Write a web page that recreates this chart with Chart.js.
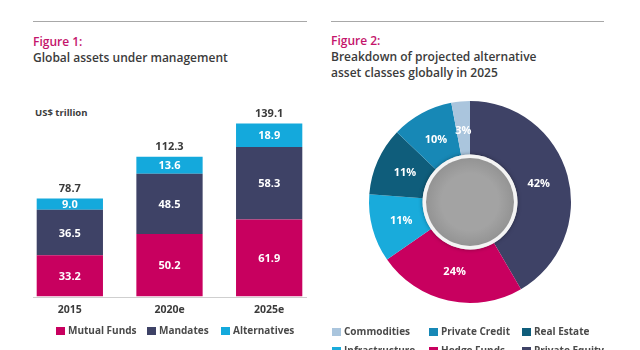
<!DOCTYPE html>
<html>
<head>
<meta charset="utf-8">
<script src="https://cdn.jsdelivr.net/npm/chart.js@4"></script>
<style>
  body { margin: 0; width: 640px; height: 350px; overflow: hidden; background: #fff; font-family: "Open Sans", sans-serif; position: relative; }
  .rule { position: absolute; top: 21px; height: 1px; background: #a8a8a8; }
  .fig { position: absolute; font-size: 12px; font-weight: 600; color: #c4146b; }
  .title { position: absolute; font-size: 12px; font-weight: 600; color: #3b3b3b; line-height: 16px; }
  .unit { position: absolute; left: 35px; top: 106px; font-size: 9.5px; font-weight: bold; color: #3b3b3b; }
  .box { position: absolute; }
  .leg { position: absolute; font-size: 10px; font-weight: bold; color: #4a4a4a; white-space: nowrap; line-height: 14px; }
  .leg span { display: inline-block; width: 9px; height: 8px; margin-right: 3px; vertical-align: -0.5px; }
</style>
</head>
<body>
<div class="rule" style="left:33px;width:274px"></div>
<div class="rule" style="left:331px;width:273px"></div>
<div class="fig" style="left:33px;top:33px">Figure 1:</div>
<div class="title" style="left:33px;top:50px">Global assets under management</div>
<div class="fig" style="left:331px;top:32px">Figure 2:</div>
<div class="title" style="left:331px;top:49px">Breakdown of projected alternative<br>asset classes globally in 2025</div>
<div class="unit">US$ trillion</div>

<div class="box" style="left:20px;top:98px;width:299px;height:225px"><canvas id="barChart"></canvas></div>
<div class="rule" style="left:33px;width:274px;top:297px;background:#cfcfcf"></div>
<div class="box" style="left:365px;top:97px;width:210px;height:210px"><canvas id="pieChart"></canvas></div>

<script>
// Figure 1 data
const years = ['2015', '2020e', '2025e'];
const mutualFunds = [33.2, 50.2, 61.9];
const mandates = [36.5, 48.5, 58.3];
const alternatives = [9.0, 13.6, 18.9];
const totals = [78.7, 112.3, 139.1];

// Figure 2 data (clockwise from the top)
const assetClasses = ['Private Equity', 'Hedge Funds', 'Infrastructure', 'Real Estate', 'Private Credit', 'Commodities'];
const assetShares = [42, 24, 11, 11, 10, 3];
const legendOrder = ['Commodities', 'Private Credit', 'Real Estate', 'Infrastructure', 'Hedge Funds', 'Private Equity'];

const PINK = '#c8005f';
const NAVY = '#3e4266';
const CYAN = '#14a9dc';
const pieColors = {
    'Private Equity': NAVY,
    'Hedge Funds': PINK,
    'Infrastructure': '#19abdb',
    'Real Estate': '#0f5d7b',
    'Private Credit': '#1788b6',
    'Commodities': '#aac5dd'
};

const FONT = '"Open Sans", sans-serif';

// white values inside the bars + totals above
const barLabels = {
    id: 'barLabels',
    afterDatasetsDraw(chart) {
        const ctx = chart.ctx;
        ctx.save();
        ctx.textAlign = 'center';
        ctx.textBaseline = 'middle';
        ctx.font = 'bold 11px ' + FONT;
        chart.data.datasets.forEach((ds, i) => {
            chart.getDatasetMeta(i).data.forEach((bar, j) => {
                ctx.fillStyle = '#fff';
                ctx.fillText(ds.data[j].toFixed(1), bar.x, (bar.y + bar.base) / 2 + 1);
            });
        });
        const top = chart.getDatasetMeta(chart.data.datasets.length - 1).data;
        top.forEach((bar, j) => {
            ctx.fillStyle = '#3b3b3b';
            ctx.fillText(totals[j].toFixed(1), bar.x, bar.y - 10);
        });
        ctx.restore();
    }
};

new Chart(document.getElementById('barChart'), {
    type: 'bar',
    data: {
        labels: years,
        datasets: [
            { label: 'Mutual Funds', data: mutualFunds, backgroundColor: PINK },
            { label: 'Mandates', data: mandates, backgroundColor: NAVY },
            { label: 'Alternatives', data: alternatives, backgroundColor: CYAN }
        ]
    },
    options: {
        responsive: true,
        maintainAspectRatio: false,
        animation: false,
        events: [],
        layout: { padding: { top: 12, bottom: 0 } },
        plugins: { legend: { display: false }, tooltip: { enabled: false } },
        datasets: { bar: { categoryPercentage: 1, barPercentage: 0.665 } },
        scales: {
            x: {
                stacked: true,
                grid: { display: false, drawTicks: false },
                border: { display: false },
                ticks: { color: '#3b3b3b', font: { family: FONT, size: 10.5, weight: 'bold' }, padding: 7 }
            },
            y: { stacked: true, display: false, min: 0, max: 150 }
        }
    },
    plugins: [barLabels]
});

// percentages + grey hub in the middle
const pieExtras = {
    id: 'pieExtras',
    afterDatasetsDraw(chart) {
        const ctx = chart.ctx;
        const arcs = chart.getDatasetMeta(0).data;
        const cx = arcs[0].x, cy = arcs[0].y;
        const inner = arcs[0].innerRadius;
        ctx.save();
        ctx.shadowColor = 'rgba(0,0,0,0.35)';
        ctx.shadowBlur = 4;
        ctx.fillStyle = '#f4f4f4';
        ctx.beginPath();
        ctx.arc(cx, cy, inner, 0, Math.PI * 2);
        ctx.fill();
        ctx.shadowBlur = 0;
        ctx.shadowColor = 'transparent';
        const g = ctx.createRadialGradient(cx, cy, inner * 0.6, cx, cy, inner - 3);
        g.addColorStop(0, '#a3a3a3');
        g.addColorStop(1, '#939393');
        ctx.fillStyle = g;
        ctx.beginPath();
        ctx.arc(cx, cy, inner - 3.5, 0, Math.PI * 2);
        ctx.fill();

        ctx.textAlign = 'center';
        ctx.textBaseline = 'middle';
        ctx.font = 'bold 11px ' + FONT;
        ctx.fillStyle = '#fff';
        arcs.forEach((arc, i) => {
            const mid = (arc.startAngle + arc.endAngle) / 2;
            const r = (arc.innerRadius + arc.outerRadius) / 2 - 3;
            ctx.fillText(assetShares[i] + '%', cx + Math.cos(mid) * r, cy + Math.sin(mid) * r);
        });
        ctx.restore();
    }
};

new Chart(document.getElementById('pieChart'), {
    type: 'doughnut',
    data: {
        labels: assetClasses,
        datasets: [{
            data: assetShares,
            backgroundColor: assetClasses.map(n => pieColors[n]),
            borderWidth: 0
        }]
    },
    options: {
        responsive: true,
        maintainAspectRatio: false,
        animation: false,
        events: [],
        cutout: '47%',
        layout: { padding: 4 },
        plugins: { legend: { display: false }, tooltip: { enabled: false } }
    },
    plugins: [pieExtras]
});

// legends
function legendItem(x, y, color, text) {
    const d = document.createElement('div');
    d.className = 'leg';
    d.style.left = x + 'px';
    d.style.top = y + 'px';
    d.innerHTML = '<span style="background:' + color + '"></span>' + text;
    document.body.appendChild(d);
}
const barLegendX = [56, 147, 221];
[['Mutual Funds', PINK], ['Mandates', NAVY], ['Alternatives', CYAN]].forEach((it, i) => {
    legendItem(barLegendX[i], 323, it[1], it[0]);
});
const pieLegendX = [332, 429, 522];
legendOrder.forEach((name, i) => {
    legendItem(pieLegendX[i % 3], 324 + Math.floor(i / 3) * 19, pieColors[name], name);
});
</script>
</body>
</html>
